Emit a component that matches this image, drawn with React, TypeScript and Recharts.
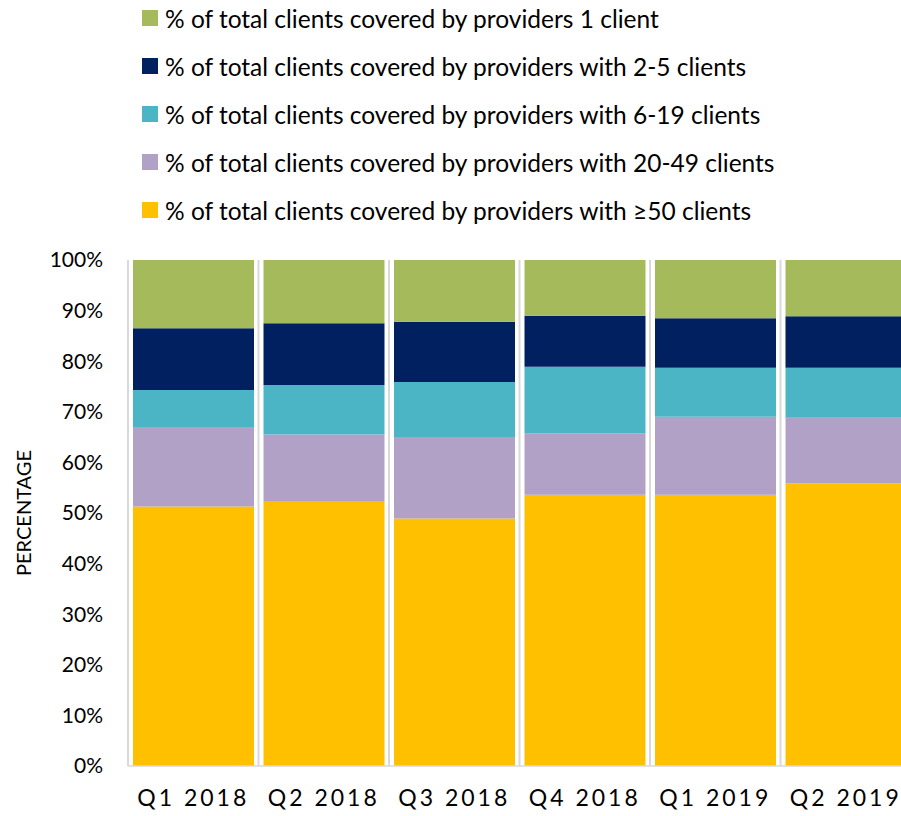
import React from 'react';
import { BarChart, Bar, XAxis, YAxis, CartesianGrid, Legend } from 'recharts';

const categories = ['Q1 2018', 'Q2 2018', 'Q3 2018', 'Q4 2018', 'Q1 2019', 'Q2 2019'];
const over50 = [51.3, 52.2, 48.9, 53.6, 53.6, 55.9];
const with20to49 = [15.7, 13.3, 16.1, 12.1, 15.4, 12.9];
const with6to19 = [7.3, 9.8, 10.9, 13.2, 9.7, 9.9];
const with2to5 = [12.2, 12.2, 11.9, 10.1, 9.8, 10.2];
const oneClient = [13.5, 12.5, 12.2, 11.0, 11.5, 11.1];
const yTicks = [0, 10, 20, 30, 40, 50, 60, 70, 80, 90, 100];

const series = [
  { key: 'over50', name: '% of total clients covered by providers with \u226550 clients', color: '#FFC000', values: over50 },
  { key: 'with20to49', name: '% of total clients covered by providers with 20-49 clients', color: '#B1A1C7', values: with20to49 },
  { key: 'with6to19', name: '% of total clients covered by providers with 6-19 clients', color: '#4BB5C6', values: with6to19 },
  { key: 'with2to5', name: '% of total clients covered by providers with 2-5 clients', color: '#002060', values: with2to5 },
  { key: 'oneClient', name: '% of total clients covered by providers 1 client', color: '#A5BA5A', values: oneClient },
];

const data = categories.map((c, i) => {
  const row: Record<string, any> = { category: c };
  series.forEach((s) => {
    row[s.key] = s.values[i];
  });
  return row;
});

const renderLegend = () => (
  <div style={{ fontFamily: 'Lato, sans-serif' }}>
    {[...series].reverse().map((s) => (
      <div key={s.key} style={{ height: 48, display: 'flex', alignItems: 'center', whiteSpace: 'nowrap' }}>
        <span style={{ display: 'inline-block', width: 16, height: 16, background: s.color, marginRight: 7 }} />
        <span style={{ fontSize: 24.5, color: '#000' }}>{s.name}</span>
      </div>
    ))}
  </div>
);

const XTick = (props: any) => {
  const { x, y, payload } = props;
  return (
    <text
      x={x}
      y={y}
      dy={32}
      textAnchor="middle"
      fill="#000"
      fontSize={23}
      style={{ letterSpacing: '3px' }}
    >
      {payload.value}
    </text>
  );
};

const YLabel = (props: any) => {
  const vb = props.viewBox || {};
  const cx = vb.x + 23;
  const cy = vb.y + vb.height / 2;
  return (
    <text
      x={cx}
      y={cy}
      transform={`rotate(-90, ${cx}, ${cy})`}
      textAnchor="middle"
      dominantBaseline="central"
      fill="#000"
      fontSize={20}
    >
      PERCENTAGE
    </text>
  );
};

export default function App() {
  return (
    <div
      style={{
        position: 'absolute',
        left: 0,
        top: 0,
        width: 901,
        height: 816,
        overflow: 'hidden',
        background: '#fff',
        fontFamily: 'Lato, sans-serif',
      }}
    >
      <BarChart
        width={930}
        height={816}
        data={data}
        margin={{ top: 260, right: 19, bottom: 0, left: 0 }}
        barSize={121}
      >
        <CartesianGrid
          horizontal={false}
          stroke="#d9d9d9"
          strokeWidth={2}
          verticalCoordinatesGenerator={({ offset }: any) => {
            const n = categories.length;
            const out: number[] = [];
            for (let i = 0; i <= n; i++) out.push(offset.left + (i * offset.width) / n);
            return out;
          }}
        />
        <XAxis
          dataKey="category"
          height={50}
          tickLine={false}
          axisLine={{ stroke: '#d9d9d9', strokeWidth: 1.5 }}
          tick={<XTick />}
          interval={0}
        />
        <YAxis
          width={128}
          domain={[0, 100]}
          ticks={yTicks}
          tickFormatter={(v: number) => `${v}%`}
          axisLine={false}
          tickLine={false}
          tickMargin={19}
          tick={{ fontSize: 21, fill: '#000' }}
          label={<YLabel />}
        />
        <Legend
          layout="vertical"
          align="center"
          verticalAlign="middle"
          wrapperStyle={{ top: -6, left: 142, width: 'auto' }}
          content={renderLegend}
        />
        {series.map((s) => (
          <Bar key={s.key} dataKey={s.key} name={s.name} stackId="a" fill={s.color} isAnimationActive={false} />
        ))}
      </BarChart>
    </div>
  );
}
